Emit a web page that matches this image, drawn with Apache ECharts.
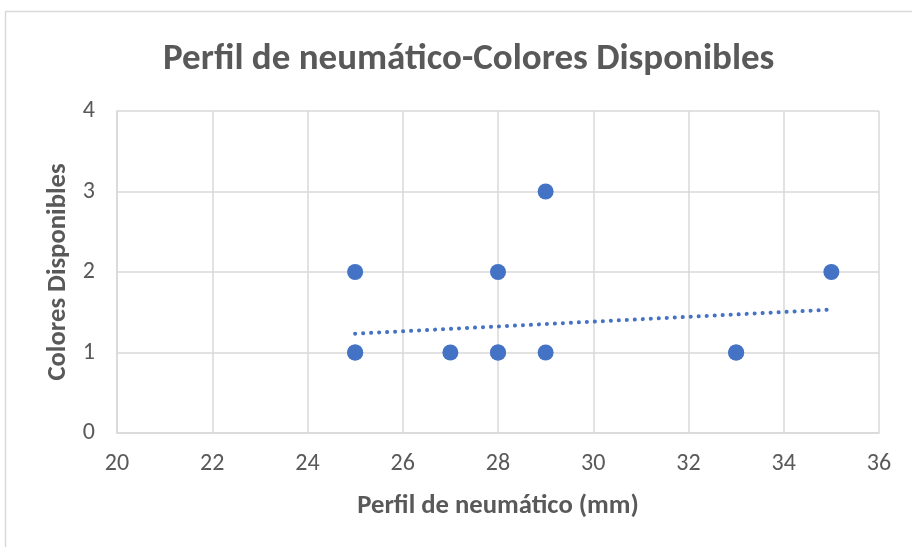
<!DOCTYPE html>
<html><head><meta charset="utf-8">
<script src="https://cdn.jsdelivr.net/npm/echarts@6/dist/echarts.min.js"></script>
<style>html,body{margin:0;padding:0;background:#fff}#c{width:912px;height:547px}</style>
</head><body><div id="c"></div>
<script>
const perfil = [25, 25, 25, 27, 28, 28, 28, 29, 29, 33, 33, 35];
const colores = [2, 1, 1, 1, 2, 1, 1, 3, 1, 1, 1, 2];
const trendX = [25, 35];
const trendY = [1.234, 1.533];
const xTicks = [20, 36, 2];
const yTicks = [0, 4, 1];

const FONT = "Carlito, 'Liberation Sans Narrow', 'Open Sans', sans-serif";
const chart = echarts.init(document.getElementById('c'));
chart.setOption({
  animation: false,
  graphic: [{type:'rect', shape:{x:5.5,y:11.5,width:920,height:560}, style:{fill:'none',stroke:'#d9d9d9',lineWidth:1.5}}],
  title: {text:'Perfil de neumático-Colores Disponibles', left:158, top:36,
    textStyle:{fontFamily:FONT, fontWeight:'bold', fontSize:37, color:'#595959'}},
  grid: {left:117, right:33, top:111, bottom:114},
  xAxis: {type:'value', min:xTicks[0], max:xTicks[1], interval:xTicks[2],
    name:'Perfil de neumático (mm)', nameLocation:'middle', nameGap:60,
    nameTextStyle:{fontFamily:FONT, fontWeight:'bold', fontSize:26.7, color:'#595959'},
    axisLine:{show:true, lineStyle:{color:'#d9d9d9', width:1.5}}, axisTick:{show:false},
    axisLabel:{fontFamily:FONT, fontSize:24, color:'#595959', margin:19},
    splitLine:{show:true, lineStyle:{color:'#d9d9d9', width:1.5}}},
  yAxis: {type:'value', min:yTicks[0], max:yTicks[1], interval:yTicks[2],
    name:'Colores Disponibles', nameLocation:'middle', nameGap:42,
    nameTextStyle:{fontFamily:FONT, fontWeight:'bold', fontSize:26.7, color:'#595959'},
    axisLine:{show:true, lineStyle:{color:'#d9d9d9', width:1.5}}, axisTick:{show:false},
    axisLabel:{fontFamily:FONT, fontSize:24, color:'#595959', margin:22},
    splitLine:{show:true, lineStyle:{color:'#d9d9d9', width:1.5}}},
  series: [
    {type:'line', data: trendX.map((x,i)=>[x,trendY[i]]), symbol:'none', z:1,
      lineStyle:{color:'#4472C4', width:4, type:[0.1,7.9], cap:'round'}},
    {type:'scatter', data: perfil.map((x,i)=>[x,colores[i]]), symbol:'circle', symbolSize:16, z:2,
      itemStyle:{color:'#4472C4', opacity:1}}
  ]
});
</script></body></html>
